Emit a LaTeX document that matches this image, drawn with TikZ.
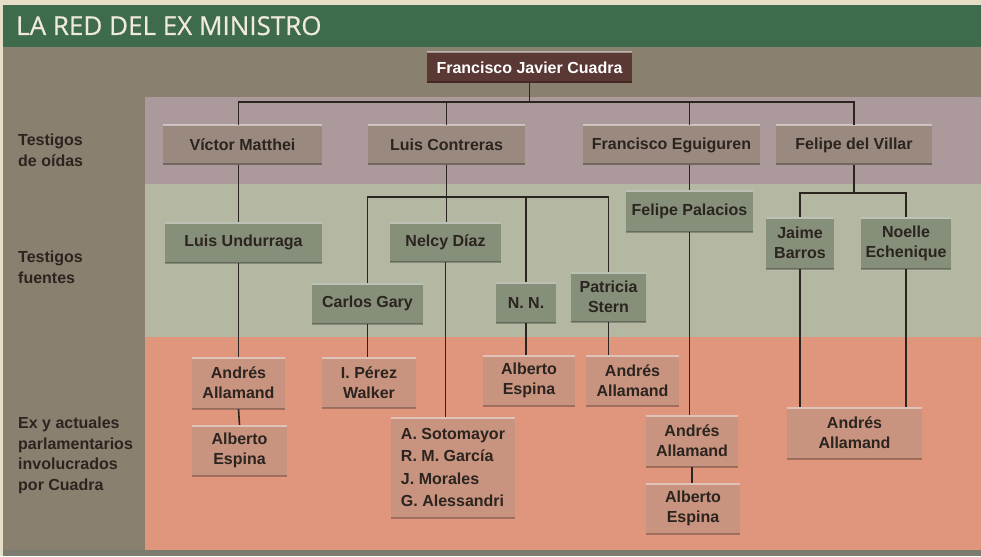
\documentclass[tikz,border=0pt]{standalone}
\usepackage{fontspec}
\setmainfont{Liberation Sans}
\newfontfamily\titulo{Open Sans}[UprightFeatures={FakeBold=0.5}]
\usetikzlibrary{calc}

\definecolor{papel}{HTML}{E6DFC8}
\definecolor{verde}{HTML}{3E6B4C}
\definecolor{fondo}{HTML}{8A8070}
\definecolor{lila}{HTML}{AC999B}
\definecolor{grisverde}{HTML}{B4B8A3}
\definecolor{salmon}{HTML}{E0967D}
\definecolor{franja}{HTML}{7B7B6E}
\definecolor{cajaA}{HTML}{9A897F}
\definecolor{cajaB}{HTML}{868F79}
\definecolor{cajaC}{HTML}{C8937F}
\definecolor{cuadrac}{HTML}{5A3935}
\definecolor{tinta}{HTML}{2B241F}
\definecolor{crema}{HTML}{EFEADB}

\tikzset{
  caja/.style={fill=#1, text=tinta, align=center, inner sep=0pt,
    font=\fontsize{16}{20}\selectfont\bfseries,
    path picture={
      \draw[line width=3pt, white, opacity=0.45] (path picture bounding box.north west) -- (path picture bounding box.north east);
      \draw[line width=3pt, black, opacity=0.25] (path picture bounding box.south west) -- (path picture bounding box.south east);}},
  oidas/.style={caja=cajaA},
  fuentes/.style={caja=cajaB},
  parla/.style={caja=cajaC},
  linea/.style={draw=tinta, line width=1.6pt},
  etiqueta/.style={anchor=north west, inner sep=0pt, align=left, text=tinta,
    font=\fontsize{16}{20.5}\selectfont\bfseries},
}

\begin{document}
\begin{tikzpicture}[x=1pt, y=-1pt]
		\useasboundingbox (0,0) rectangle (981,556);
		\fill[papel] (0,0) rectangle (981,556);
		% franjas de fondo
		\fill[verde] (3,5) rectangle (981,47);
		\fill[fondo] (3,47) rectangle (981,550);
		\fill[franja] (3,550) rectangle (981,556);
		\fill[lila] (145,97) rectangle (981,184);
		\fill[grisverde] (145,184) rectangle (981,337);
		\fill[salmon] (145,337) rectangle (981,550);
		\node[anchor=base west, inner sep=0pt, text=crema, font=\titulo\fontsize{26}{26}\selectfont] (titulo) at (16,35) {LA RED DEL EX MINISTRO};
		% niveles
		\node[etiqueta] (nivel1) at (18,134) {Testigos\\de oídas};
		\node[etiqueta] (nivel2) at (18,251) {Testigos\\fuentes};
		\node[etiqueta] (nivel3) at (18,417) {Ex y actuales\\parlamentarios\\involucrados\\por Cuadra};
		% personas
		\node[caja=cuadrac, text=white, minimum width=205, minimum height=31] (cuadra) at (529.5,67.5) {Francisco Javier Cuadra};
		\node[oidas, minimum width=159, minimum height=40] (matthei) at (242.5,145) {Víctor Matthei};
		\node[oidas, minimum width=157, minimum height=40] (contreras) at (446.5,145) {Luis Contreras};
		\node[oidas, minimum width=177, minimum height=40] (eguiguren) at (671.5,145) {Francisco Eguiguren};
		\node[oidas, minimum width=156, minimum height=40] (villar) at (854,145) {Felipe del Villar};
		\node[fuentes, minimum width=157, minimum height=41] (undurraga) at (243.5,242.5) {Luis Undurraga};
		\node[fuentes, minimum width=111, minimum height=40] (nelcy) at (445.5,242) {Nelcy Díaz};
		\node[fuentes, minimum width=111, minimum height=41] (gary) at (367.5,303.5) {Carlos Gary};
		\node[fuentes, minimum width=60, minimum height=41] (nn) at (526,302.5) {N. N.};
		\node[fuentes, minimum width=75, minimum height=50] (stern) at (608.5,297) {Patricia\\Stern};
		\node[fuentes, minimum width=127, minimum height=42] (palacios) at (689.5,211) {Felipe Palacios};
		\node[fuentes, minimum width=68, minimum height=52] (barros) at (800,243) {Jaime\\Barros};
		\node[fuentes, minimum width=90, minimum height=52] (echenique) at (906,243) {Noelle\\Echenique};
		\node[parla, minimum width=93, minimum height=52] (allamandA) at (238.5,383) {Andrés\\Allamand};
		\node[parla, minimum width=95, minimum height=51] (espinaA) at (239.5,450.5) {Alberto\\Espina};
		\node[parla, minimum width=94, minimum height=51] (perez) at (369,382.5) {I. Pérez\\Walker};
		\node[parla, align=left, minimum width=124, minimum height=101, font=\fontsize{16}{22.5}\selectfont\bfseries] (soto) at (453,467.5) {A. Sotomayor\\R. M. García\\J. Morales\\G. Alessandri};
		\node[parla, minimum width=92, minimum height=51] (espinaB) at (529,380.5) {Alberto\\Espina};
		\node[parla, minimum width=93, minimum height=51] (allamandB) at (632.5,380.5) {Andrés\\Allamand};
		\node[parla, minimum width=92, minimum height=52] (allamandC) at (692,441) {Andrés\\Allamand};
		\node[parla, minimum width=94, minimum height=51] (espinaC) at (693,508.5) {Alberto\\Espina};
		\node[parla, minimum width=135, minimum height=52] (allamandD) at (854.5,433) {Andrés\\Allamand};
		% lineas
		\coordinate (bus1) at (0,102);
		\coordinate (bus2) at (0,197);
		\coordinate (bus3) at (0,193);
		\draw[linea] (cuadra.south) -- (cuadra.south |- bus1);
		\draw[linea] (matthei.north -| allamandA) |- (villar.north |- bus1) -- (villar.north);
		\draw[linea] (contreras.north) -- (contreras.north |- bus1);
		\draw[linea] (eguiguren.north -| palacios) -- (palacios |- bus1);
		\draw[linea] (matthei.south -| allamandA) -- (undurraga.north -| allamandA);
		\draw[linea] (undurraga.south -| allamandA) -- (allamandA.north);
		\draw[linea] (allamandA.south) -- (espinaA.north);
		\draw[linea] (contreras.south) -- (contreras.south |- nelcy.north);
		\draw[linea] (gary.north) |- (stern.north |- bus2) -- (stern.north);
		\draw[linea] (nn.north) -- (nn.north |- bus2);
		\draw[linea] (nelcy.south) -- (nelcy.south |- soto.north);
		\draw[linea] (gary.south) -- (gary.south |- perez.north);
		\draw[linea] (nn.south) -- (nn.south |- espinaB.north);
		\draw[linea] (stern.south) -- (stern.south |- allamandB.north);
		\draw[linea] (eguiguren.south -| palacios) -- (palacios.north);
		\draw[linea] (palacios.south) -- (palacios.south |- allamandC.north);
		\draw[linea] (allamandC.south) -- (allamandC.south |- espinaC.north);
		\draw[linea] (villar.south) -- (villar.south |- bus3);
		\draw[linea] (barros.north) |- (echenique.north |- bus3) -- (echenique.north);
		\draw[linea] (barros.south) -- (barros.south |- allamandD.north);
		\draw[linea] (echenique.south) -- (echenique.south |- allamandD.north);
\end{tikzpicture}
\end{document}
